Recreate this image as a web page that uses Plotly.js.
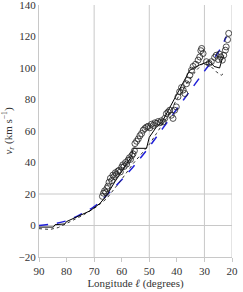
<!DOCTYPE html>
<html><head><meta charset="utf-8">
<script src="https://cdn.plot.ly/plotly-3.0.1.min.js"></script>
<style>html,body{margin:0;padding:0;background:#fff}#chart{width:243px;height:292px}</style>
</head><body><div id="chart"></div>
<script>
// Observed radial velocities (open circles)
const obsL = [67.0,66.6,66.2,65.8,65.4,65.0,64.6,64.1,63.6,63.2,62.8,62.3,61.9,61.4,61.0,60.5,60.0,59.6,59.1,58.6,58.2,57.7,57.2,56.8,56.3,55.9,55.4,55.2,54.6,54.0,53.4,52.8,52.2,51.6,51.0,50.4,49.8,49.2,48.6,48.0,47.4,46.8,46.2,45.6,45.0,44.4,43.8,43.2,42.6,42.0,41.4,40.8,40.2,39.6,39.0,38.3,37.7,37.1,36.5,35.9,35.3,34.7,34.1,33.2,32.3,31.7,31.3,31.0,30.5,29.3,28.3,27.5,26.3,25.7,25.0,24.5,24.1,23.5,23.0,22.4,22.1,21.6,21.2];
const obsV = [18.5,20.5,22.0,21.0,23.5,25.0,27.5,30.0,28.5,32.0,31.0,33.5,32.5,34.5,35.0,34.0,37.0,38.5,37.5,40.0,39.0,41.5,43.0,42.0,44.5,45.5,47.5,52.0,53.5,55.0,57.0,58.4,60.5,61.6,62.5,63.0,62.0,64.3,63.5,65.2,64.8,66.0,65.2,66.5,65.8,68.0,71.0,72.0,73.2,70.0,68.0,73.2,75.3,81.7,84.9,87.6,86.0,83.8,90.0,92.3,95.4,98.6,101.0,102.4,105.0,107.0,111.0,112.4,109.2,104.0,103.0,104.0,106.7,108.1,105.4,108.8,107.0,105.0,108.1,111.3,113.4,118.0,122.0];

// Model curve 1 (solid black)
const solidL = [90,84.8,84.2,80.6,80.0,75.2,71.5,67.9,65.5,62.5,59.5,56.4,55.8,51.0,50.0,47.4,45.6,40.5,35.3,31.7,28.1,26.5,24.5,23.5,23.0];
const solidV = [-1,-1,0.5,1,2.5,6.5,9.3,14,19,27.7,36,44,49,49,56,62.6,65,82,98.6,102,104.3,101,100,106,108];

// Model curve 2 (dotted)
const dotL = [90,86,83,78.8,74,69.1,65.5,60.7,55.8,52.2,49.8,47.4,43.8,40.2,36.5,32.9,30.5,28.1,25.7,23.9,22.7];
const dotV = [-2,-2.5,-1.3,2.3,6.6,11.9,17,27.7,39.4,46.8,52,58.4,68,79.6,90,98.6,102.9,101.8,97.6,95.4,97];

// Model curve 3 (blue dashed)
const blueL = [90,85,80,75,70,65,60,55,50,45,40,35,30,25,22];
const blueV = [0,1,3,7,12,20,29,39,50,62,74,86,98,110,120];

const xTicks = [90,80,70,60,50,40,30,20];
const yTicks = [-20,0,20,40,60,80,100,120,140];
const gridX = [70,50,30,20];
const gridY = [20,0];

const gridColor = '#c8c8c8';
const shapes = [];
gridX.forEach(x => shapes.push({type:'line',xref:'x',yref:'y',x0:x,x1:x,y0:-20,y1:140,line:{color:gridColor,width:1},layer:'below'}));
gridY.forEach(y => shapes.push({type:'line',xref:'x',yref:'y',x0:90,x1:20,y0:y,y1:y,line:{color:gridColor,width:1},layer:'below'}));

const traces = [
  {x:blueL,y:blueV,mode:'lines',line:{color:'#2020d8',width:1.5,dash:'dash',shape:'spline'},hoverinfo:'skip'},
  {x:dotL,y:dotV,mode:'lines',line:{color:'#333',width:1,dash:'dot'},hoverinfo:'skip'},
  {x:solidL,y:solidV,mode:'lines',line:{color:'#000',width:1},hoverinfo:'skip'},
  {x:obsL,y:obsV,mode:'markers',marker:{symbol:'circle-open',size:6,color:'#222',line:{width:0.8,color:'#222'}},hoverinfo:'skip'}
];

const fam = 'Liberation Serif';
const layout = {
  width:243,height:292,
  margin:{l:39,r:11,t:5,b:35},
  paper_bgcolor:'#fff',plot_bgcolor:'#fff',
  showlegend:false,
  font:{family:fam,size:11,color:'#333'},
  xaxis:{range:[90,20],tickvals:xTicks,showgrid:false,zeroline:false,showline:true,linecolor:gridColor,linewidth:1,
    ticks:'outside',ticklen:4,tickcolor:gridColor,tickfont:{family:fam,size:11,color:'#333'},ticklabeloverflow:'allow',
    title:{text:'Longitude <i>ℓ</i> (degrees)',font:{family:fam,size:11,color:'#333'},standoff:3}},
  yaxis:{range:[-20,140],tickvals:yTicks,ticktext:yTicks.map(v=>v<0?'−'+(-v):String(v)),showgrid:false,zeroline:false,showline:true,linecolor:gridColor,linewidth:1,
    ticks:'',tickfont:{family:fam,size:11,color:'#333'},ticklabeloverflow:'allow',
    title:{text:'<i>v</i><sub><i>r</i></sub> (km s<sup>−1</sup>)',font:{family:fam,size:11,color:'#333'},standoff:6}},
  shapes:shapes
};
Plotly.newPlot('chart',traces,layout,{staticPlot:true,displayModeBar:false});
</script></body></html>
